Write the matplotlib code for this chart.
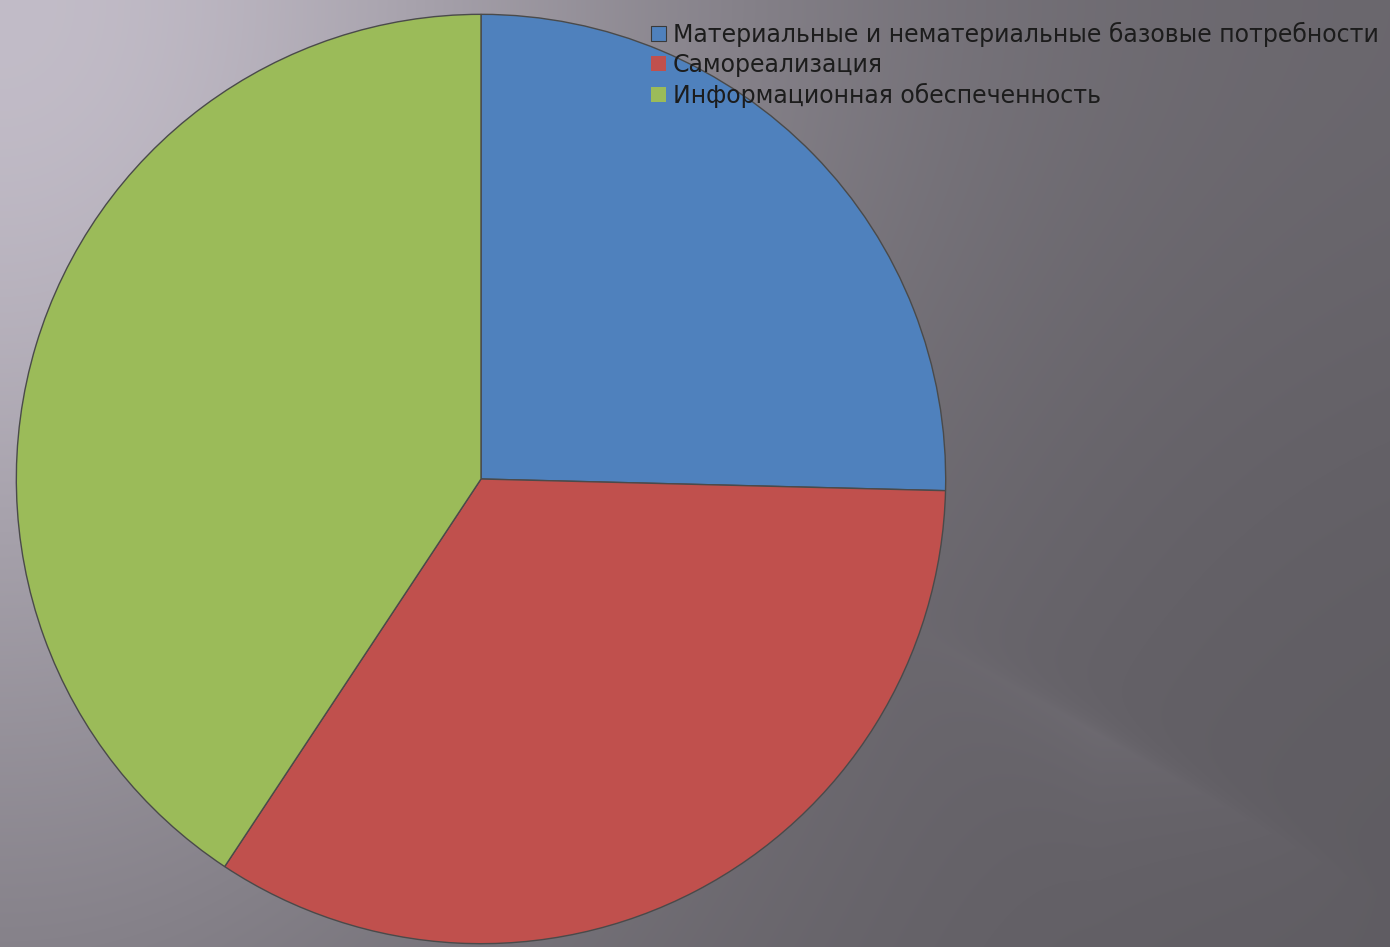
import numpy as np
import matplotlib.pyplot as plt
from matplotlib.patches import Patch

labels = [
    "Материальные и нематериальные базовые потребности",
    "Самореализация",
    "Информационная обеспеченность",
]
shares = [25.4, 33.9, 40.7]
colors = ["#4f81bd", "#c0504d", "#9bbb59"]

W, H = 1390, 947
fig = plt.figure(figsize=(W / 100, H / 100), dpi=100)

# slide-like gray background: light on the left, darker to the right, soft diagonal streak
bg = fig.add_axes([0, 0, 1, 1])
yy, xx = np.mgrid[0:H, 0:W]
u, v = xx / W, yy / H
shade = 0.37 + 0.35 * np.exp(-(u / 0.5) ** 2 - (v / 1.1) ** 2)
shade += 0.04 * np.exp(-(v / 0.5) ** 2)
# diagonal light band on the right, soft top edge, fading below
off = (yy - 650) - 0.57 * (xx - 950)
band = np.where(off > 0, np.exp(-off / 90.0), np.exp(off / 15.0))
shade += 0.035 * band * np.clip((xx - 900) / 200, 0, 1) * np.clip((1390 - xx) / 300, 0, 1)
rgb = np.dstack([shade * 1.0, shade * 0.97, shade * 1.03]).clip(0, 1)
bg.imshow(rgb, aspect="auto", extent=[0, 1, 0, 1], interpolation="bilinear")
bg.set_axis_off()

ax = fig.add_axes([14 / W, 1 / H, 934 / W, 934 / H])
ax.pie(
    shares,
    colors=colors,
    startangle=90,
    counterclock=False,
    radius=1,
    wedgeprops=dict(edgecolor="#4a4a4a", linewidth=1),
)
ax.set_xlim(-1.005, 1.005)
ax.set_ylim(-1.005, 1.005)
ax.set_aspect("equal")
ax.set_axis_off()

handles = [
    Patch(facecolor=colors[0], edgecolor="#3a3a3a", linewidth=0.8),
    Patch(facecolor=colors[1], edgecolor="none"),
    Patch(facecolor=colors[2], edgecolor="none"),
]
fig.legend(
    handles,
    labels,
    loc="upper left",
    bbox_to_anchor=(651 / W, 1 - 22 / H),
    frameon=False,
    prop={"family": "DejaVu Sans", "size": 17},
    labelcolor="#1c1c1c",
    handlelength=0.62,
    handleheight=0.62,
    handletextpad=0.3,
    labelspacing=0.25,
    borderpad=0,
    borderaxespad=0,
)

fig.savefig("out.png", dpi=100)
